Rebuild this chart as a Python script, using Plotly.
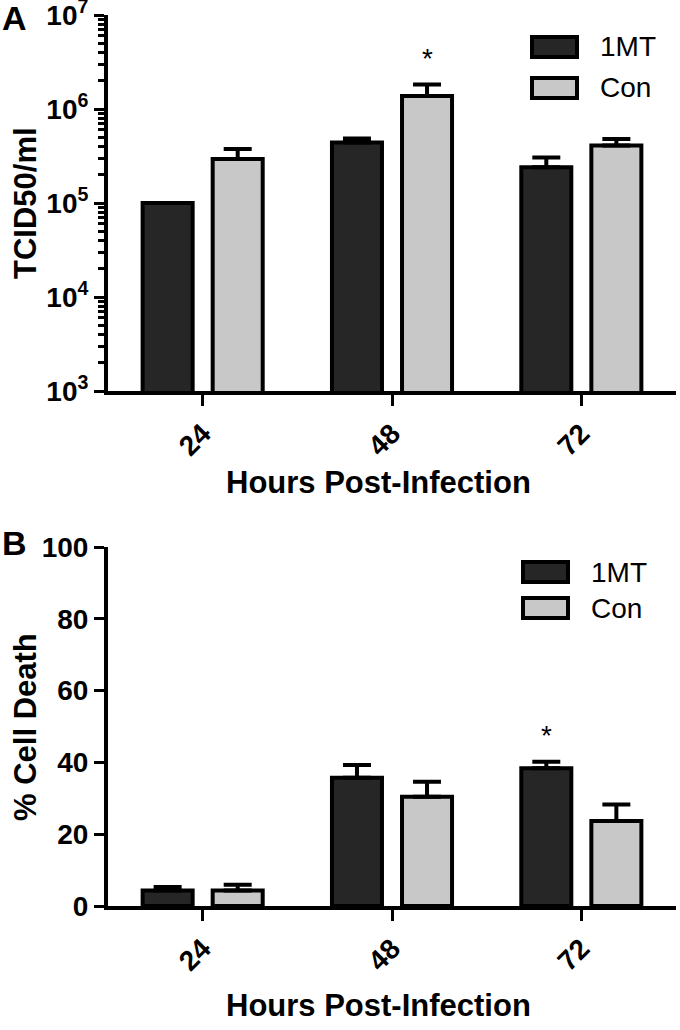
import math
import plotly.graph_objects as go
from plotly.subplots import make_subplots

hours = ["24", "48", "72"]
series = ["1MT", "Con"]
colors = ["#262626", "#c8c8c8"]

# Panel A: TCID50/ml
titer_1mt = [1.0e5, 4.4e5, 2.4e5]
titer_1mt_err = [0.0, 0.45e5, 0.65e5]
titer_con = [2.95e5, 1.38e6, 4.1e5]
titer_con_err = [0.8e5, 0.45e6, 0.7e5]

# Panel B: % cell death
death_1mt = [4.3, 35.7, 38.4]
death_1mt_err = [1.0, 3.6, 1.8]
death_con = [4.3, 30.4, 23.7]
death_con_err = [1.6, 4.2, 4.6]

sig_a = [("48", 1)]   # (hour, series index)
sig_b = [("72", 0)]

W, H = 680, 1030
FONT = "Liberation Sans"


def px(p):
    return p / W


def py(p):
    return 1 - p / H


fig = make_subplots(rows=2, cols=1)

panel_data = [
    ([titer_1mt, titer_con], [titer_1mt_err, titer_con_err]),
    ([death_1mt, death_con], [death_1mt_err, death_con_err]),
]
for r, (vals, errs) in enumerate(panel_data, start=1):
    for i in range(2):
        fig.add_trace(go.Bar(
            x=hours, y=vals[i], name=series[i],
            marker=dict(color=colors[i], line=dict(color="black", width=4)),
            error_y=dict(type="data", symmetric=False, array=errs[i],
                         arrayminus=[0] * len(hours), color="black",
                         thickness=4, width=14),
            showlegend=False,
        ), row=r, col=1)

xdom = [px(108), px(676)]
ydomA = [py(391), py(15)]
ydomB = [py(906), py(547)]

axis_font = dict(family=FONT, size=28, color="black", weight="bold")
common_x = dict(type="category", range=[-0.5, 2.5], showline=True, linewidth=4,
                linecolor="black", ticks="outside", ticklen=11, tickwidth=3,
                tickcolor="black", tickangle=-45, tickfont=axis_font,
                showgrid=False, zeroline=False, domain=xdom, automargin=False,
                ticklabeloverflow="allow")

fig.update_layout(
    width=W, height=H, margin=dict(l=0, r=0, t=0, b=0, autoexpand=False),
    plot_bgcolor="white", paper_bgcolor="white",
    barmode="group", bargap=0.26, bargroupgap=0.286,
    xaxis=dict(**common_x, anchor="y"),
    xaxis2=dict(**common_x, anchor="y2"),
    yaxis=dict(type="log", range=[3, 7.001], domain=ydomA, anchor="x", automargin=False,
               ticklabeloverflow="allow",
               showline=True, linewidth=4, linecolor="black",
               ticks="outside", ticklen=10, tickwidth=3, tickcolor="black",
               tickvals=[10 ** k for k in range(3, 8)],
               ticktext=[f"10<sup>{k}</sup>" for k in range(3, 8)],
               tickfont=axis_font, showgrid=False, zeroline=False,
               minor=dict(ticks="outside", ticklen=6, tickwidth=2.5,
                          tickcolor="black", showgrid=False,
                          tickvals=[m * 10 ** k for k in range(3, 7) for m in range(2, 10)])),
    yaxis2=dict(range=[0, 100], domain=ydomB, anchor="x2", automargin=False,
                ticklabeloverflow="allow",
                showline=True, linewidth=4, linecolor="black",
                ticks="outside", ticklen=10, tickwidth=3, tickcolor="black",
                tickvals=[0, 20, 40, 60, 80, 100], tickfont=axis_font,
                showgrid=False, zeroline=False),
)

ann = []
title_font = dict(family=FONT, size=31, color="black", weight="bold")
ann.append(dict(text="TCID50/ml", x=px(25), y=py(203), xref="paper", yref="paper",
                textangle=-90, showarrow=False, font=title_font, xanchor="center", yanchor="middle"))
ann.append(dict(text="% Cell Death", x=px(25), y=py(727), xref="paper", yref="paper",
                textangle=-90, showarrow=False, font=title_font, xanchor="center", yanchor="middle"))
ann.append(dict(text="Hours Post-Infection", x=px(378), y=py(482), xref="paper", yref="paper",
                showarrow=False, font=title_font, xanchor="center", yanchor="middle"))
ann.append(dict(text="Hours Post-Infection", x=px(378), y=py(1005), xref="paper", yref="paper",
                showarrow=False, font=title_font, xanchor="center", yanchor="middle"))
letter_font = dict(family=FONT, size=34, color="black", weight="bold")
ann.append(dict(text="A", x=px(0), y=py(18), xref="paper", yref="paper", showarrow=False,
                font=letter_font, xanchor="left", yanchor="middle"))
ann.append(dict(text="B", x=px(0), y=py(543), xref="paper", yref="paper", showarrow=False,
                font=letter_font, xanchor="left", yanchor="middle"))

star_font = dict(family=FONT, size=28, color="black")
vals_a = [titer_1mt, titer_con]; errs_a = [titer_1mt_err, titer_con_err]
for h, s in sig_a:
    j = hours.index(h)
    top = vals_a[s][j] + errs_a[s][j]
    ann.append(dict(text="*", x=j, y=math.log10(top), xref="x", yref="y", showarrow=False,
                    xshift=(-35 if s == 0 else 35), yshift=26, yanchor="middle", font=star_font))
vals_b = [death_1mt, death_con]; errs_b = [death_1mt_err, death_con_err]
for h, s in sig_b:
    j = hours.index(h)
    top = vals_b[s][j] + errs_b[s][j]
    ann.append(dict(text="*", x=j, y=top, xref="x2", yref="y2", showarrow=False,
                    xshift=(-35 if s == 0 else 35), yshift=26, yanchor="middle", font=star_font))

shapes = []
legend_specs = [(532, [47, 88]), (523, [572, 608])]
for x0, rows in legend_specs:
    for i, yc in enumerate(rows):
        shapes.append(dict(type="rect", xref="paper", yref="paper",
                           x0=px(x0), x1=px(x0 + 45),
                           y0=py(yc + 10), y1=py(yc - 10),
                           fillcolor=colors[i], line=dict(color="black", width=4)))
        ann.append(dict(text=series[i], x=px(x0 + 66), y=py(yc), xref="paper", yref="paper",
                        showarrow=False, xanchor="left", yanchor="middle",
                        font=dict(family=FONT, size=28, color="black")))

fig.update_layout(annotations=ann, shapes=shapes)
fig.write_html("out.html", config={"displayModeBar": False},
               post_script="document.body.style.margin='0';document.body.style.overflow='hidden';")
